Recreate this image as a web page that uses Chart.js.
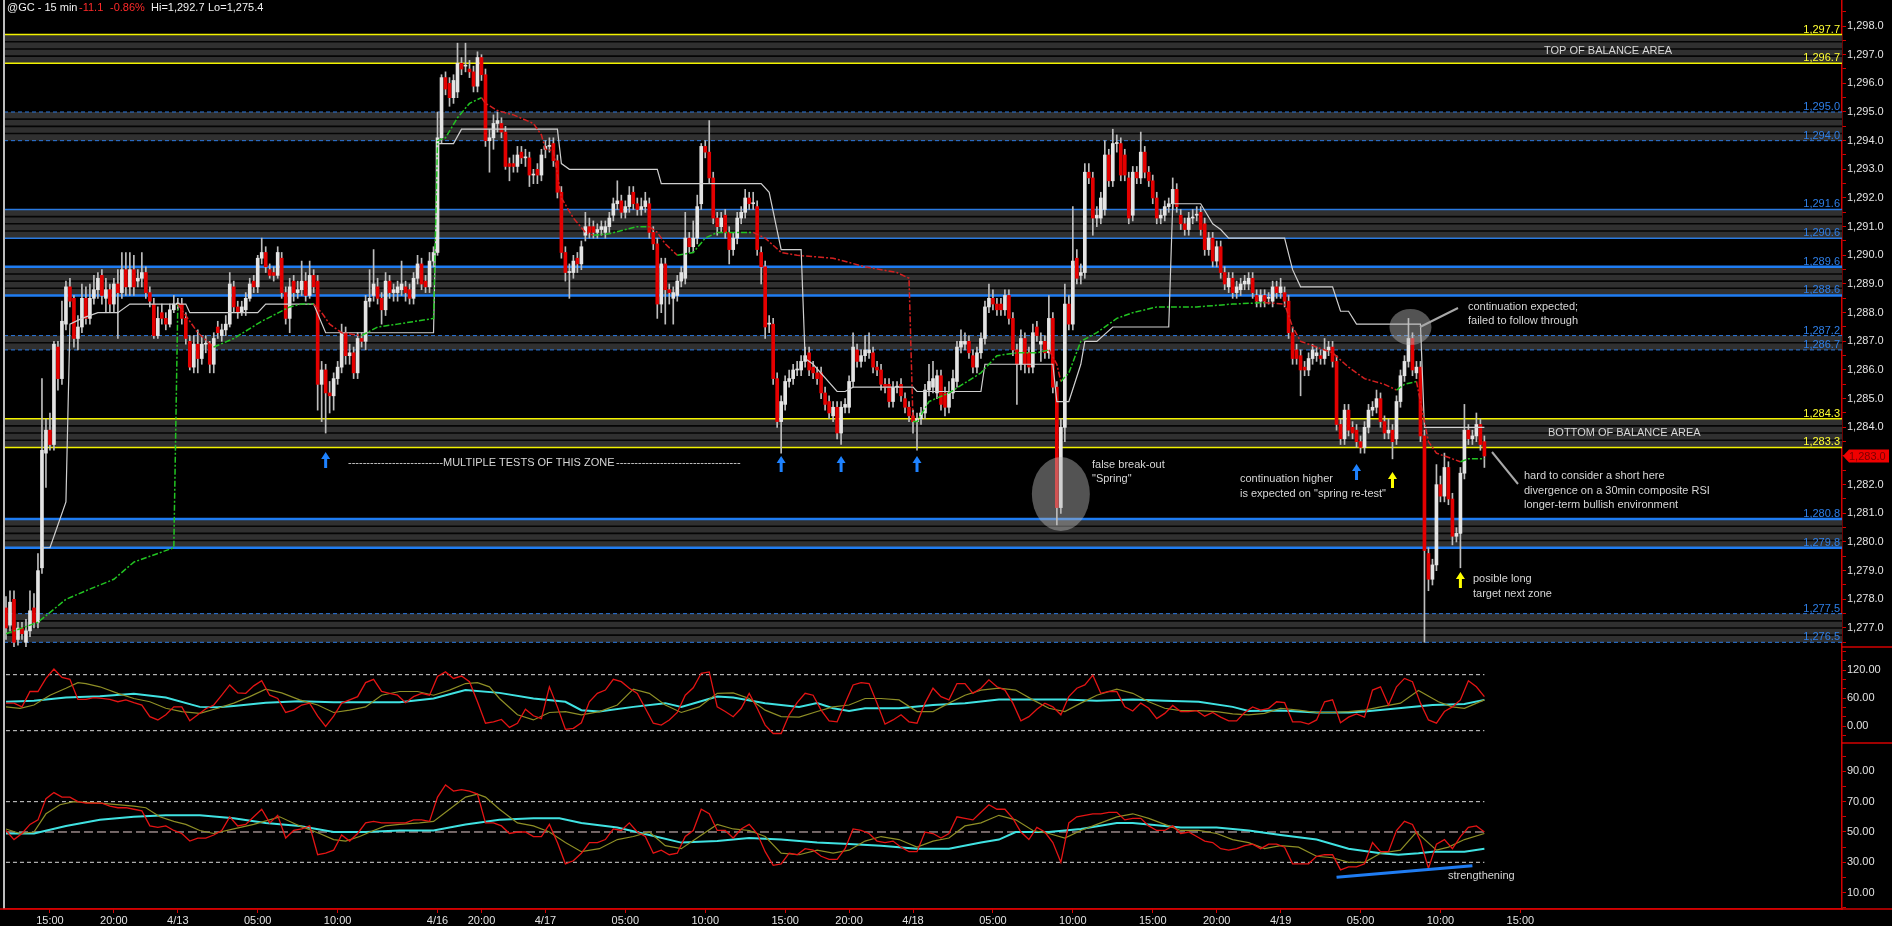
<!DOCTYPE html>
<html><head><meta charset="utf-8">
<script src="https://cdn.jsdelivr.net/npm/chart.js@4.4.1/dist/chart.umd.min.js"></script>
<style>html,body{margin:0;padding:0;background:#000;overflow:hidden}canvas{display:block}</style>
</head><body>
<canvas id="c" width="1892" height="926"></canvas>
<script>
// ---------------- DATA ----------------
const SLOTS = 460;
const tickIdx = [11,27,43,63,83,108,119,135,155,175,195,211,227,247,267,287,303,319,339,359,379];
const tickText = ['15:00','20:00','4/13','05:00','10:00','4/16','20:00','4/17','05:00','10:00','15:00','20:00','4/18','05:00','10:00','15:00','20:00','4/19','05:00','10:00','15:00'];

// 15-min candles [open, high, low, close]
const ohlc = [
[1277.7,1278.1,1276.6,1277.0],[1277.1,1278.3,1276.9,1277.9],[1278.0,1278.3,1276.3,1276.5],[1276.6,1277.2,1276.4,1277.0],[1277.0,1277.2,1276.6,1276.8],[1276.5,1277.3,1276.3,1276.9],[1276.9,1278.3,1276.7,1277.6],[1277.7,1278.2,1277.0,1277.2],[1277.2,1279.6,1277.0,1279.0],[1279.1,1285.7,1278.9,1283.2],
[1283.1,1284.3,1281.9,1283.9],[1283.9,1284.5,1283.2,1283.4],[1283.4,1287.0,1283.2,1286.9],[1286.8,1287.0,1285.3,1285.7],[1285.7,1288.4,1285.5,1287.7],[1287.6,1289.1,1287.4,1288.9],[1288.9,1289.2,1288.2,1288.4],[1288.5,1288.6,1286.8,1287.1],[1287.1,1287.9,1286.7,1287.5],[1287.5,1289.0,1287.3,1288.5],
[1288.5,1288.9,1287.6,1287.8],[1287.8,1289.0,1287.6,1288.5],[1288.5,1289.3,1288.3,1288.8],[1288.8,1289.4,1288.5,1289.2],[1289.3,1289.5,1288.3,1288.6],[1288.5,1289.2,1288.0,1288.8],[1288.8,1289.0,1288.0,1288.3],[1288.3,1289.2,1288.0,1289.0],[1289.0,1289.5,1287.1,1288.7],[1288.7,1290.1,1288.5,1289.5],
[1289.5,1290.1,1288.6,1288.9],[1288.9,1290.1,1288.6,1289.5],[1289.5,1290.0,1288.6,1288.9],[1289.1,1289.5,1288.9,1289.2],[1289.2,1290.1,1288.9,1289.4],[1289.4,1289.6,1288.5,1288.7],[1288.7,1288.9,1288.2,1288.4],[1288.3,1288.5,1287.1,1287.2],[1287.2,1288.2,1287.1,1287.8],[1288.0,1288.3,1287.6,1287.8],
[1287.8,1288.0,1287.4,1287.6],[1287.6,1288.3,1287.5,1288.1],[1288.1,1288.6,1288.0,1288.3],[1288.3,1288.5,1288.1,1288.3],[1288.3,1288.5,1287.6,1287.8],[1287.8,1288.0,1286.9,1287.1],[1287.0,1287.2,1286.0,1286.1],[1286.1,1287.2,1285.9,1286.9],[1286.9,1287.4,1285.9,1286.4],[1286.4,1287.2,1286.2,1286.9],
[1286.9,1287.2,1286.6,1286.9],[1286.9,1287.0,1285.9,1286.2],[1286.2,1287.3,1285.9,1287.1],[1287.5,1287.7,1287.1,1287.3],[1287.2,1287.6,1287.0,1287.4],[1287.4,1287.9,1287.2,1287.6],[1287.6,1289.4,1287.5,1289.0],[1288.9,1289.1,1288.0,1288.2],[1288.2,1288.4,1287.8,1288.0],[1288.0,1288.4,1287.9,1288.2],
[1288.1,1288.7,1287.9,1288.5],[1288.5,1289.2,1288.4,1289.0],[1289.1,1289.3,1288.7,1288.9],[1288.9,1290.0,1288.7,1289.9],[1289.9,1290.6,1289.7,1290.1],[1290.1,1290.3,1289.4,1289.6],[1289.5,1289.7,1289.2,1289.3],[1289.4,1289.6,1289.1,1289.3],[1289.3,1290.3,1289.2,1290.1],[1289.9,1290.1,1288.5,1288.7],
[1288.7,1288.9,1287.6,1287.8],[1287.8,1289.2,1287.3,1288.9],[1289.1,1289.3,1288.4,1288.7],[1288.7,1289.1,1288.5,1288.8],[1288.8,1289.8,1288.6,1289.1],[1289.1,1289.4,1288.4,1288.6],[1288.6,1289.8,1288.5,1289.3],[1289.3,1289.5,1288.7,1288.9],[1289.1,1289.3,1284.6,1285.5],[1285.5,1286.3,1284.2,1286.0],
[1286.0,1286.2,1283.8,1285.2],[1285.2,1285.6,1284.5,1285.1],[1285.1,1285.9,1284.6,1285.7],[1285.7,1286.3,1285.5,1286.1],[1286.1,1287.6,1285.9,1287.3],[1287.3,1287.5,1286.2,1286.5],[1286.5,1286.9,1286.2,1286.6],[1286.6,1286.8,1285.7,1285.9],[1285.9,1287.3,1285.7,1287.1],[1287.1,1287.3,1286.8,1287.0],
[1287.0,1288.6,1286.7,1288.4],[1288.4,1289.5,1288.2,1288.5],[1288.6,1290.2,1288.4,1289.0],[1288.9,1289.2,1288.3,1288.5],[1288.5,1288.7,1287.6,1288.1],[1288.1,1289.4,1287.9,1289.1],[1289.1,1289.3,1288.5,1288.7],[1288.7,1289.0,1288.4,1288.8],[1288.7,1289.1,1288.4,1288.9],[1288.8,1289.8,1288.6,1289.0],
[1288.9,1289.1,1288.4,1288.7],[1288.8,1289.0,1288.3,1288.5],[1288.5,1289.4,1288.3,1289.2],[1289.2,1290.0,1289.0,1289.7],[1289.7,1289.9,1288.8,1289.0],[1289.1,1289.3,1288.7,1288.9],[1288.9,1290.1,1288.7,1289.8],[1289.8,1290.3,1289.6,1290.1],[1290.1,1295.0,1290.0,1294.1],[1294.1,1296.3,1293.9,1296.2],
[1296.2,1296.4,1295.6,1295.8],[1296.0,1296.2,1295.2,1295.5],[1295.5,1296.3,1295.3,1296.1],[1295.7,1297.4,1295.5,1296.7],[1296.7,1296.9,1296.3,1296.5],[1296.6,1297.4,1296.4,1296.6],[1296.5,1296.8,1296.2,1296.4],[1296.4,1296.6,1295.7,1295.9],[1295.9,1297.1,1295.7,1296.9],[1296.9,1297.0,1296.1,1296.3],
[1296.3,1296.5,1293.8,1294.0],[1294.0,1294.4,1292.9,1294.1],[1294.1,1294.9,1293.7,1294.6],[1294.6,1295.0,1294.3,1294.7],[1294.6,1294.8,1294.1,1294.3],[1294.3,1294.5,1293.0,1293.1],[1293.2,1293.4,1292.6,1293.1],[1293.2,1293.5,1292.9,1293.1],[1293.1,1293.8,1292.9,1293.5],[1293.6,1293.8,1293.2,1293.4],
[1293.4,1293.7,1293.1,1293.4],[1293.4,1293.6,1292.4,1292.8],[1292.8,1293.0,1292.5,1292.8],[1293.0,1293.2,1292.5,1292.8],[1292.8,1293.7,1292.6,1293.5],[1293.7,1294.0,1293.4,1293.8],[1293.8,1294.1,1293.6,1293.8],[1293.9,1294.1,1293.1,1293.3],[1293.3,1293.5,1292.0,1292.2],[1292.2,1292.4,1289.9,1290.1],
[1290.1,1290.3,1289.1,1289.4],[1289.4,1289.7,1288.5,1289.4],[1289.4,1290.0,1289.2,1289.8],[1289.9,1290.1,1289.4,1289.7],[1289.7,1290.5,1289.5,1290.3],[1290.7,1291.5,1290.5,1291.0],[1291.0,1291.3,1290.6,1290.8],[1291.0,1291.2,1290.6,1290.8],[1290.8,1291.1,1290.6,1290.9],[1290.9,1291.2,1290.7,1291.0],
[1290.8,1291.2,1290.6,1291.0],[1291.0,1291.5,1290.8,1291.3],[1291.4,1292.0,1291.2,1291.8],[1291.8,1292.6,1291.6,1291.9],[1291.9,1292.1,1291.3,1291.5],[1291.5,1291.9,1291.3,1291.7],[1291.7,1292.4,1291.5,1292.1],[1292.2,1292.4,1291.6,1291.8],[1291.8,1292.0,1291.4,1291.6],[1291.6,1292.0,1291.4,1291.7],
[1291.7,1292.2,1291.5,1291.9],[1291.8,1292.0,1290.6,1290.8],[1290.8,1291.0,1290.2,1290.4],[1290.4,1290.6,1287.8,1288.3],[1288.3,1289.9,1288.0,1289.7],[1289.7,1289.9,1287.6,1288.8],[1288.8,1289.0,1288.3,1288.7],[1288.5,1288.9,1287.6,1288.7],[1288.6,1289.3,1288.4,1289.1],[1289.1,1289.6,1288.9,1289.4],
[1289.2,1291.5,1289.0,1290.6],[1290.6,1290.8,1290.1,1290.3],[1290.3,1291.2,1290.1,1290.6],[1290.6,1292.1,1290.4,1291.7],[1291.8,1293.9,1291.6,1293.8],[1293.8,1294.0,1293.4,1293.6],[1293.6,1294.7,1292.5,1292.7],[1292.7,1292.9,1291.1,1291.3],[1291.3,1291.5,1290.7,1291.0],[1291.0,1291.5,1290.8,1291.3],
[1291.4,1291.6,1290.6,1290.8],[1290.8,1291.0,1289.7,1290.2],[1290.2,1290.8,1290.0,1290.6],[1290.6,1291.5,1290.4,1291.3],[1291.3,1291.7,1291.1,1291.5],[1291.5,1292.3,1291.3,1292.0],[1292.0,1292.2,1291.6,1291.8],[1291.8,1292.2,1291.6,1291.8],[1291.7,1291.9,1290.0,1290.2],[1290.1,1290.3,1289.0,1289.6],
[1289.6,1289.8,1287.1,1287.5],[1287.6,1287.9,1287.3,1287.6],[1287.6,1287.8,1285.5,1285.7],[1285.7,1285.9,1284.0,1284.2],[1284.2,1285.1,1283.1,1284.9],[1284.8,1285.8,1284.6,1285.6],[1285.6,1286.0,1285.4,1285.7],[1285.7,1286.2,1285.5,1286.0],[1286.0,1286.3,1285.8,1286.0],[1286.0,1286.5,1285.8,1286.3],
[1286.3,1286.8,1286.1,1286.5],[1286.6,1286.8,1285.8,1286.0],[1286.1,1286.3,1285.7,1285.9],[1285.9,1286.1,1285.5,1285.7],[1285.9,1286.1,1285.0,1285.2],[1285.2,1285.4,1284.6,1284.8],[1284.9,1285.1,1284.3,1284.5],[1284.4,1284.9,1284.2,1284.7],[1284.7,1284.9,1283.6,1283.8],[1283.8,1284.9,1283.4,1284.7],
[1284.7,1285.0,1284.5,1284.8],[1284.7,1285.8,1284.5,1285.6],[1285.6,1287.3,1285.4,1286.8],[1286.7,1286.9,1286.1,1286.3],[1286.3,1286.7,1286.1,1286.5],[1286.5,1287.2,1286.3,1286.7],[1286.6,1287.3,1286.4,1286.7],[1286.6,1286.8,1285.9,1286.1],[1286.1,1286.3,1285.8,1286.0],[1286.0,1286.2,1285.3,1285.5],
[1285.5,1285.7,1285.2,1285.4],[1285.5,1285.7,1284.7,1284.9],[1284.9,1285.6,1284.7,1285.4],[1285.4,1285.6,1285.2,1285.4],[1285.5,1285.7,1284.9,1285.1],[1285.0,1285.2,1284.5,1284.7],[1284.7,1284.9,1284.2,1284.4],[1284.4,1284.6,1283.8,1284.2],[1284.2,1284.5,1283.2,1284.3],[1284.3,1284.7,1284.1,1284.5],
[1284.5,1285.5,1284.3,1285.3],[1285.3,1286.2,1285.1,1285.6],[1285.4,1286.3,1285.2,1285.7],[1285.2,1286.0,1285.0,1285.8],[1285.8,1286.0,1284.6,1284.8],[1285.2,1285.4,1284.4,1284.7],[1284.7,1285.6,1284.5,1285.2],[1285.2,1286.0,1285.0,1285.7],[1285.6,1287.0,1285.4,1286.8],[1286.8,1287.4,1286.6,1287.0],
[1286.9,1287.3,1286.7,1287.0],[1287.0,1287.2,1286.4,1286.6],[1286.5,1286.7,1285.9,1286.1],[1286.1,1286.8,1285.9,1286.6],[1286.6,1287.3,1286.4,1287.1],[1287.1,1288.4,1286.9,1288.2],[1288.2,1289.0,1288.0,1288.5],[1288.5,1288.8,1288.1,1288.3],[1288.3,1288.5,1287.9,1288.1],[1288.3,1288.5,1287.9,1288.1],
[1288.1,1288.8,1287.9,1288.6],[1288.6,1288.8,1287.6,1287.8],[1287.8,1288.0,1286.5,1286.7],[1286.7,1286.9,1284.8,1286.2],[1286.2,1287.4,1286.0,1287.1],[1287.1,1287.3,1285.9,1286.2],[1286.6,1286.8,1285.9,1286.1],[1286.1,1287.6,1285.9,1287.3],[1287.5,1287.7,1287.0,1287.2],[1286.9,1287.3,1286.3,1287.0],
[1287.0,1287.2,1286.4,1286.6],[1286.6,1288.6,1286.4,1287.8],[1287.8,1288.0,1285.2,1285.4],[1285.4,1285.6,1280.6,1281.2],[1281.2,1284.3,1281.0,1284.0],[1284.0,1289.0,1283.5,1288.3],[1288.3,1288.6,1287.4,1287.6],[1287.6,1291.7,1287.4,1289.8],[1289.9,1290.2,1289.0,1289.2],[1289.3,1289.7,1289.0,1289.4],
[1289.4,1293.2,1289.2,1292.9],[1292.9,1293.2,1292.5,1292.7],[1292.7,1292.9,1290.7,1291.3],[1291.3,1291.7,1291.0,1291.4],[1291.3,1292.2,1291.1,1292.0],[1291.6,1294.0,1291.4,1293.5],[1293.5,1293.7,1292.4,1292.6],[1292.6,1294.4,1292.4,1293.9],[1293.9,1294.2,1293.6,1293.9],[1293.9,1294.1,1292.6,1292.8],
[1293.5,1293.7,1292.6,1292.8],[1292.7,1292.9,1291.1,1291.3],[1291.4,1293.1,1291.2,1292.9],[1292.9,1293.1,1292.5,1292.7],[1292.7,1294.3,1292.5,1293.6],[1293.6,1293.8,1292.7,1292.9],[1292.9,1293.1,1292.4,1292.6],[1292.6,1292.8,1291.8,1292.0],[1292.0,1292.2,1291.1,1291.3],[1291.3,1291.6,1291.1,1291.4],
[1291.4,1291.9,1291.2,1291.7],[1291.7,1292.0,1291.5,1291.8],[1291.8,1292.7,1291.6,1292.3],[1292.3,1292.5,1291.5,1291.7],[1291.4,1291.6,1290.9,1291.1],[1291.1,1291.3,1290.7,1290.9],[1290.9,1291.5,1290.7,1291.3],[1291.3,1291.6,1291.1,1291.3],[1291.4,1291.7,1291.2,1291.4],[1291.5,1291.7,1290.7,1290.9],
[1291.1,1291.3,1290.0,1290.2],[1290.2,1290.8,1290.0,1290.6],[1290.6,1290.8,1289.6,1289.8],[1289.8,1290.5,1289.6,1290.3],[1290.3,1290.5,1289.2,1289.4],[1289.4,1289.6,1288.8,1289.0],[1288.9,1289.4,1288.7,1289.2],[1289.2,1289.4,1288.5,1288.7],[1288.7,1289.1,1288.5,1288.9],[1288.8,1289.2,1288.6,1289.0],
[1289.0,1289.3,1288.8,1289.1],[1289.0,1289.4,1288.8,1289.2],[1289.2,1289.4,1288.5,1288.7],[1288.6,1288.8,1288.2,1288.4],[1288.4,1288.8,1288.2,1288.6],[1288.6,1288.8,1288.2,1288.4],[1288.5,1288.7,1288.3,1288.5],[1288.4,1289.1,1288.2,1288.9],[1288.9,1289.1,1288.5,1288.7],[1288.7,1289.2,1288.5,1288.9],
[1288.7,1288.9,1288.2,1288.4],[1288.4,1288.6,1287.1,1287.3],[1287.3,1287.5,1286.2,1286.4],[1286.7,1286.9,1286.2,1286.4],[1286.5,1286.7,1285.1,1286.0],[1286.1,1286.3,1285.8,1286.0],[1286.0,1286.6,1285.8,1286.4],[1286.4,1286.9,1286.2,1286.7],[1286.5,1286.8,1286.3,1286.6],[1286.5,1286.7,1286.2,1286.4],
[1286.4,1287.1,1286.2,1286.7],[1286.7,1287.0,1286.5,1286.8],[1286.8,1287.0,1286.1,1286.3],[1286.3,1286.5,1283.9,1284.1],[1284.1,1284.3,1283.4,1283.6],[1283.6,1284.8,1283.4,1284.6],[1284.6,1284.8,1283.7,1283.9],[1284.0,1284.2,1283.6,1283.8],[1283.9,1284.1,1283.3,1283.5],[1283.5,1283.7,1283.1,1283.3],
[1283.3,1284.2,1283.1,1284.0],[1284.0,1284.8,1283.8,1284.6],[1284.6,1284.9,1284.4,1284.7],[1284.7,1285.3,1284.5,1285.0],[1285.0,1285.2,1284.0,1284.2],[1284.2,1284.4,1283.6,1283.8],[1283.8,1284.3,1283.6,1283.9],[1283.9,1284.1,1282.9,1283.5],[1283.6,1285.1,1283.4,1284.9],[1284.9,1286.0,1284.7,1285.8],
[1285.8,1286.5,1285.6,1286.3],[1286.3,1287.8,1286.1,1287.1],[1287.1,1287.3,1285.8,1286.0],[1285.9,1286.3,1285.7,1286.1],[1286.1,1286.3,1283.5,1283.7],[1283.7,1283.9,1276.5,1279.7],[1279.6,1279.8,1278.3,1278.7],[1278.7,1279.4,1278.5,1279.2],[1279.2,1282.7,1279.0,1282.0],[1282.0,1282.3,1281.4,1281.6],
[1281.6,1283.1,1281.4,1282.6],[1282.6,1282.8,1281.3,1281.5],[1281.5,1281.7,1279.9,1280.2],[1280.2,1280.5,1280.0,1280.3],[1280.3,1282.6,1279.1,1282.4],[1282.4,1284.8,1282.2,1283.9],[1283.9,1284.1,1283.4,1283.6],[1283.6,1283.9,1283.4,1283.7],[1283.7,1284.5,1283.5,1284.1],[1284.1,1284.3,1283.2,1283.4],
[1283.5,1283.7,1282.6,1283.0]
];
const lastPrice = 1283.0;

// white step line [bar, price]
const stepLine = [[9,1279.8],[11,1279.8],[12,1280.2],[15,1281.4],[16,1287.6],[19,1287.8],[23,1288.0],[28,1288.0],[31,1288.3],[45,1288.3],[46,1288.0],[63,1288.0],[65,1288.3],[77,1288.3],[80,1287.3],[107,1287.3],[108,1293.9],[112,1293.9],[114,1294.4],[138,1294.4],[139,1293.2],[141,1293.0],[163,1293.0],[164,1292.5],[189,1292.5],[191,1292.2],[194,1290.2],[199,1290.2],[200,1286.4],[202,1286.2],[208,1285.25],[210,1285.25],[212,1285.4],[227,1285.4],[228,1285.25],[244,1285.25],[245,1286.2],[262,1286.2],[263,1284.9],[266,1284.9],[269,1286.2],[270,1287.0],[273,1287.0],[277,1287.5],[291,1287.5],[292,1291.8],[299,1291.8],[302,1291.1],[304,1290.9],[306,1290.6],[320,1290.6],[322,1289.5],[324,1288.9],[332,1288.9],[334,1288.05],[336,1288.05],[338,1287.6],[354,1287.6],[355,1284.0],[370,1284.0]];

// green/red dashed average line [bar, price]
const avgLine = [[0,1276.8],[8,1277.2],[15,1278.0],[20,1278.3],[27,1278.7],[32,1279.3],[36,1279.5],[42,1279.8],[43,1288.3],[45,1287.9],[48,1287.3],[52,1286.8],[57,1287.1],[64,1287.7],[71,1288.2],[74,1288.3],[77,1288.3],[79,1288.0],[81,1287.6],[84,1287.3],[89,1287.2],[93,1287.5],[98,1287.6],[107,1287.8],[108,1294.0],[110,1294.1],[113,1294.8],[116,1295.3],[119,1295.5],[120,1295.3],[123,1295.05],[127,1294.9],[132,1294.6],[134,1294.2],[135,1293.7],[137,1293.65],[139,1292.0],[142,1291.3],[145,1290.8],[147,1290.7],[151,1290.75],[155,1290.9],[158,1291.0],[161,1291.0],[163,1290.8],[165,1290.4],[168,1290.0],[172,1290.1],[175,1290.6],[178,1290.8],[187,1290.8],[190,1290.6],[194,1290.1],[198,1290.0],[207,1289.9],[215,1289.6],[223,1289.4],[226,1289.2],[227,1284.2],[228,1284.2],[231,1284.9],[236,1285.2],[244,1285.9],[248,1286.5],[253,1286.6],[258,1286.6],[261,1286.7],[263,1286.2],[264,1285.6],[266,1285.9],[269,1287.0],[273,1287.3],[278,1287.8],[282,1288.0],[288,1288.2],[298,1288.2],[307,1288.3],[315,1288.35],[320,1288.3],[322,1287.5],[324,1287.0],[328,1286.8],[332,1286.6],[336,1286.1],[340,1285.7],[345,1285.5],[348,1285.3],[350,1285.5],[353,1285.6],[356,1283.5],[358,1283.1],[362,1282.9],[364,1282.8],[366,1282.9],[370,1282.9]];

// zones
const zoneTop    = [1297.7, 1295.0, 1291.6, 1289.6, 1287.2, 1284.3, 1280.8, 1277.5];
const zoneBottom = [1296.7, 1294.0, 1290.6, 1288.6, 1286.7, 1283.3, 1279.8, 1276.5];
const zoneKind   = ['yellow','blueDash','blueThin','blueThick','blueDash','yellow','blueThick','blueDash'];

// arrows
const arrowBars   = [80, 194, 209, 228, 338, 347, 364];
const arrowPrices = [1282.86, 1282.72, 1282.72, 1282.72, 1282.44, 1282.16, 1278.67];
const arrowColors = ['#1e82ff','#1e82ff','#1e82ff','#1e82ff','#1e82ff','#ffff00','#ffff00'];

// highlight circles [bar, price]
const circleBars   = [264, 351.5];
const circlePrices = [1281.67, 1287.5];

// oscillator 1 (values every 2 bars)
const osc1Red = [49,49,41,74,74,102,122,104,100,57,
57,61,59,57,52,56,50,45,20,13,
24,41,41,11,24,37,45,66,88,71,
70,86,97,66,59,29,34,45,49,21,
-1,21,49,56,63,93,100,74,70,66,
50,63,70,66,106,116,102,107,95,52,
6,9,14,-3,6,36,22,16,84,41,
-7,-5,7,52,70,77,100,95,81,70,
38,6,2,13,29,66,82,113,116,41,
31,20,38,70,38,2,-16,-16,24,50,
70,66,34,11,9,49,88,93,91,49,
4,13,24,9,6,49,81,63,56,91,
91,70,81,99,84,77,49,11,20,36,
49,41,24,63,81,88,109,70,74,74,
41,32,49,38,16,27,44,31,31,33,
21,29,19,11,11,29,41,34,38,52,
50,9,9,4,13,52,56,7,19,26,
19,77,84,45,84,102,95,49,13,6,
31,41,56,97,84,63];
const osc1Olive = [[0,41],[3.5,38],[7,45],[11,66],[15,81],[18,93],[20,91],[23.5,84],[28,70],[32,59],[36,52],[40,38],[44,31],[48.5,27],[53,38],[57,49],[61,63],[65,79],[69,71],[73.5,56],[78,45],[82,29],[86,34],[90,41],[94,66],[98.5,74],[103,74],[107,66],[111,77],[115,91],[118,93],[121,84],[123.5,59],[128,24],[132,13],[136,29],[140,31],[144,24],[148.5,31],[153,45],[157,79],[161,70],[165,45],[169,29],[173.5,41],[178,70],[182,71],[186,59],[190,34],[194,20],[198.5,19],[203,31],[207,41],[211,45],[215,59],[219,59],[223.5,56],[228,31],[232,31],[236,49],[240,66],[244,77],[248.5,81],[252.7,77],[257,56],[261,38],[265,31],[269,49],[273,66],[278,79],[282,70],[286,52],[290,38],[294,33],[298.5,33],[303,31],[307,26],[311,24],[315,27],[319,38],[323.5,34],[328,29],[332,29],[336,31],[340,34],[344,41],[349,49],[353.5,76],[358.5,52],[362,41],[365,38],[370,56]];
const osc1Cyan = [[0,52],[7,54],[15,61],[23.5,64],[32,69],[40,61],[48.5,41],[53,40],[57,43],[65,50],[73.5,53],[82,51],[90,51],[98.5,51],[107,59],[115,77],[123.5,71],[132,59],[140,52],[144,34],[148.5,31],[157,41],[165,49],[169,41],[173.5,52],[178,63],[182,61],[190,49],[198.5,41],[203,49],[207,38],[211,32],[215,38],[223.5,38],[232,45],[240,49],[248.5,57],[257,57],[265,57],[273,54],[282,57],[290,54],[298.5,52],[307,41],[311,32],[319,33],[328,29],[336,29],[340,31],[348.5,38],[357,45],[365,47],[370,56]];
const osc1Levels = [110, -10];

// oscillator 2 (values every 2 bars)
const osc2Red = [51,45,49,55,58,72,76,73,73,70,
69,69,69,67,66,66,65,64,54,53,
54,51,49,44,46,46,48,51,60,54,
55,60,65,56,61,46,51,52,54,35,
36,38,48,44,49,56,57,56,56,56,
56,58,58,57,73,81,77,78,77,75,
56,56,54,49,50,50,47,47,55,43,
29,31,36,43,43,45,52,51,56,50,
47,36,38,35,36,47,51,65,62,51,
51,46,52,55,49,37,28,29,36,35,
39,38,34,32,32,39,52,51,49,44,
43,44,40,37,37,50,49,46,49,60,
59,58,63,68,65,65,59,50,45,53,
50,43,30,56,60,61,62,62,63,63,
58,59,59,54,51,51,54,49,50,47,
44,43,39,38,39,41,42,39,42,42,
40,29,29,29,34,35,35,25,27,27,
29,43,37,37,51,57,55,44,26,42,
45,39,47,53,54,50];
const osc2Olive = [[0,52],[3.5,49],[7,50],[10,62],[13.5,68],[17,70],[23.5,69],[32,67],[35,66],[38.5,60],[42,57],[45,55],[48.5,51],[52,49],[57,52],[62,55],[68.5,60],[73.5,54],[78.5,49],[82,45],[85,44],[88.5,47],[92,51],[95,54],[98.5,55],[103.5,56],[107,57],[111,65],[115,73],[118,75],[120,73],[123.5,65],[128,56],[132,54],[136,50],[140,43],[144,37],[148.5,39],[153,45],[157,47],[161,50],[165,41],[169,39],[173.5,47],[178,55],[182,52],[186,51],[190,47],[194,36],[198.5,35],[203,38],[207,36],[211,38],[215,44],[219,47],[223.5,45],[228,40],[232,44],[236,46],[240,54],[244,56],[248.5,61],[252.7,58],[257,51],[261,49],[265,46],[269,51],[273,55],[278,60],[282,62],[286,59],[290,55],[294,51],[298.5,51],[303,49],[307,45],[311,43],[315,39],[319,41],[323.5,40],[328,34],[332,33],[336,30],[340,30],[344,36],[349,38],[353,50],[358,38],[361,40],[365,45],[370,49]];
const osc2Cyan = [[0,49],[7,49],[15,54],[23.5,58],[32,60],[40,61],[48.5,61],[57,59],[65,56],[73.5,54],[82,50],[90,50],[98.5,51],[107,51],[115,55],[123.5,58],[132,59],[138.5,59],[144,56],[153,53],[161,48],[169,43],[178,44],[186,46],[194,45],[203,43],[211,42],[219,41],[228,39],[236,39],[244,43],[248.5,45],[252.7,50],[261,50],[269,52],[278,56],[282,56],[286,55],[294,53],[303,53],[311,51],[319,48],[328,45],[336,39],[344,36],[348.5,35],[353.5,36],[357,37],[365,37],[370,39]];
const osc2Levels = [70, 50, 30];
const strengthLine = [[333,20.1],[367,27.8]];

// ---------------- STYLE ----------------
const FONT = '11px "Liberation Sans", Arial, Helvetica, sans-serif';
Chart.defaults.font.family = '"Liberation Sans", Arial, Helvetica, sans-serif';
Chart.defaults.font.size = 11;
Chart.defaults.color = '#e2e2e2';
const AXIS_RED = '#d40000';
const lineStyles = {
  yellow:   {color:'#f2f200', width:1.5, dash:[],    label:'#ffff33'},
  blueDash: {color:'#2c7ae0', width:1,   dash:[4,3], label:'#2e7fe8'},
  blueThin: {color:'#2a7ae0', width:1.5, dash:[],    label:'#2e7fe8'},
  blueThick:{color:'#1f7cf2', width:2.6, dash:[],    label:'#2e7fe8'}
};
function fmtPrice(v){
  const s = v.toFixed(1).split('.');
  return s[0].replace(/\B(?=(\d{3})+(?!\d))/g, ',') + '.' + s[1];
}
const pts = arr => arr.map(p => ({x:p[0], y:p[1]}));
const every2 = arr => arr.map((v,k) => ({x:k*2, y:v}));
const span = v => [{x:0,y:v},{x:ohlc.length-1,y:v}];

const notes = [
 {t:'TOP OF BALANCE AREA', x:1544, y:51},
 {t:'BOTTOM OF BALANCE AREA', x:1548, y:433},
 {t:'continuation expected;', x:1468, y:307},
 {t:'failed to follow through', x:1468, y:321},
 {t:'false break-out', x:1092, y:465},
 {t:'"Spring"', x:1092, y:479},
 {t:'continuation higher', x:1240, y:479},
 {t:'is expected on "spring re-test"', x:1240, y:494},
 {t:'hard to consider a short here', x:1524, y:476},
 {t:'divergence on a 30min composite RSI', x:1524, y:491},
 {t:'longer-term bullish environment', x:1524, y:505},
 {t:'posible long', x:1473, y:579},
 {t:'target next zone', x:1473, y:594},
 {t:'strengthening', x:1448, y:876}
];

function arrow(c, x, yc, color){
  c.fillStyle = color;
  c.beginPath();
  c.moveTo(x, yc-8); c.lineTo(x+4.5, yc-1); c.lineTo(x+1.5, yc-1); c.lineTo(x+1.5, yc+8);
  c.lineTo(x-1.5, yc+8); c.lineTo(x-1.5, yc-1); c.lineTo(x-4.5, yc-1); c.closePath(); c.fill();
}

const overlay = {
  id:'overlay',
  beforeDraw(chart){
    const c = chart.ctx; c.save(); c.fillStyle = '#000'; c.fillRect(0,0,chart.width,chart.height); c.restore();
  },
  beforeDatasetsDraw(chart){
    const c = chart.ctx, a = chart.chartArea, y = chart.scales.y;
    c.save();
    c.beginPath(); c.rect(a.left, y.top, a.right-a.left, y.bottom-y.top); c.clip();
    zoneTop.forEach((top,k) => {
      const bot = zoneBottom[k];
      const yt = y.getPixelForValue(top), yb = y.getPixelForValue(bot);
      c.fillStyle = '#303030';
      c.fillRect(a.left, yt, a.right-a.left, yb-yt);
      c.strokeStyle = '#050505'; c.lineWidth = 1.6;
      for (let v = top-0.25; v > bot+0.01; v -= 0.25){
        const yy = y.getPixelForValue(v);
        c.beginPath(); c.moveTo(a.left, yy); c.lineTo(a.right, yy); c.stroke();
      }
      const st = lineStyles[zoneKind[k]];
      [top, bot].forEach(v => {
        const yy = y.getPixelForValue(v);
        c.strokeStyle = st.color; c.lineWidth = st.width; c.setLineDash(st.dash);
        c.beginPath(); c.moveTo(a.left, yy); c.lineTo(a.right, yy); c.stroke();
      });
      c.setLineDash([]);
    });
    c.restore();
  },
  afterDatasetsDraw(chart){
    const c = chart.ctx, a = chart.chartArea, x = chart.scales.x, y = chart.scales.y;
    c.save();
    // circles
    c.fillStyle = 'rgba(185,185,185,0.45)';
    c.beginPath(); c.ellipse(x.getPixelForValue(circleBars[0]), y.getPixelForValue(circlePrices[0]), 29, 37, 0, 0, Math.PI*2); c.fill();
    c.beginPath(); c.ellipse(x.getPixelForValue(circleBars[1]), y.getPixelForValue(circlePrices[1]), 21, 18, 0, 0, Math.PI*2); c.fill();
    // arrows
    arrowBars.forEach((b,k) => arrow(c, x.getPixelForValue(b), y.getPixelForValue(arrowPrices[k]), arrowColors[k]));
    // pointer lines
    c.strokeStyle = '#a8a8a8'; c.lineWidth = 2;
    c.beginPath(); c.moveTo(1420,327); c.lineTo(1458,308); c.stroke();
    c.beginPath(); c.moveTo(1492,452); c.lineTo(1518,484); c.stroke();
    // zone labels
    c.font = FONT; c.textAlign = 'right'; c.textBaseline = 'alphabetic';
    zoneTop.forEach((top,k) => {
      const st = lineStyles[zoneKind[k]];
      c.fillStyle = st.label;
      [top, zoneBottom[k]].forEach(v => c.fillText(fmtPrice(v), a.right-2, y.getPixelForValue(v)-2));
    });
    // notes
    c.textAlign = 'left'; c.textBaseline = 'middle'; c.fillStyle = '#d6d6d6';
    notes.forEach(n => c.fillText(n.t, n.x, n.y));
    const dw = c.measureText('-').width;
    c.fillText('-'.repeat(Math.round(95/dw)), 348, 463);
    c.fillText('MULTIPLE TESTS OF THIS ZONE', 443, 463);
    c.fillText('-'.repeat(Math.round(124/dw)), 616, 463);
    c.restore();
  },
  afterDraw(chart){
    const c = chart.ctx, a = chart.chartArea, s = chart.scales;
    c.save();
    // left border
    c.strokeStyle = '#bdbdbd'; c.lineWidth = 2;
    c.beginPath(); c.moveTo(4, 0); c.lineTo(4, a.bottom); c.stroke();
    // panel separators on axis side
    c.strokeStyle = AXIS_RED; c.lineWidth = 1.5;
    [s.y.bottom, s.y2.bottom].forEach(yy => { c.beginPath(); c.moveTo(a.right, yy); c.lineTo(chart.width, yy); c.stroke(); });
    c.beginPath(); c.moveTo(0, a.bottom); c.lineTo(chart.width, a.bottom); c.stroke();
    // price tag
    const yc = s.y.getPixelForValue(lastPrice);
    c.fillStyle = '#f00000';
    c.beginPath(); c.moveTo(a.right+1, yc); c.lineTo(a.right+7, yc-6.5); c.lineTo(1889, yc-6.5); c.lineTo(1889, yc+6.5); c.lineTo(a.right+7, yc+6.5); c.closePath(); c.fill();
    c.font = FONT; c.fillStyle = '#7a0000'; c.textAlign = 'left'; c.textBaseline = 'middle';
    c.fillText(fmtPrice(lastPrice), 1849, yc+0.5);
    // title
    c.fillStyle = '#f0f0f0'; c.fillText('@GC - 15 min', 7, 8);
    c.fillStyle = '#ff2a2a'; c.fillText('-11.1', 79, 8); c.fillText('-0.86%', 110, 8);
    c.fillStyle = '#f0f0f0'; c.fillText('Hi=1,292.7', 151, 8); c.fillText('Lo=1,275.4', 208, 8);
    c.restore();
  }
};

const redBars = ohlc.map(c => c[3] < c[0]);
const yAxisCommon = (id) => ({
  position:'right', stack:'panels',
  grid:{drawOnChartArea:false, drawTicks:true, tickLength:4, color:AXIS_RED, tickColor:AXIS_RED},
  border:{display:true, color:AXIS_RED, width:1.5},
  ticks:{autoSkip:false, padding:1, color:'#e2e2e2', font:{size:11}},
  afterFit(scale){ scale.width = 50; scale.paddingTop = 0; scale.paddingBottom = 0; }
});

const chart = new Chart(document.getElementById('c'), {
  type:'bar',
  data:{
    datasets:[
      {type:'bar', label:'wick', data: ohlc.map((c,i) => ({x:i, y:[c[2], c[1]]})), backgroundColor:'#bdbdbd', barThickness:1, grouped:false, order:20, yAxisID:'y', borderWidth:0},
      {type:'bar', label:'body', data: ohlc.map((c,i) => ({x:i, y:[c[0], c[3]]})), backgroundColor: redBars.map(r => r ? '#e40000' : '#e4e4e4'), barThickness:3, minBarLength:1, grouped:false, order:19, yAxisID:'y', borderWidth:0},
      {type:'line', label:'step', data: pts(stepLine), borderColor:'#cfcfcf', borderWidth:1.2, pointRadius:0, yAxisID:'y', order:3},
      {type:'line', label:'avg', data: pts(avgLine), borderColor:'#22c022', borderWidth:1.5, borderDash:[6,2,2,2], pointRadius:0, yAxisID:'y', order:2,
        segment:{borderColor: ctx => ctx.p1.parsed.y >= ctx.p0.parsed.y ? '#22c422' : '#d42020'}},
      ...osc1Levels.map(v => ({type:'line', data: span(v), borderColor:'#d6d6d6', borderWidth:1, borderDash:[4,3], pointRadius:0, yAxisID:'y2', order:8})),
      {type:'line', data: pts(osc1Cyan), borderColor:'#40e2e2', borderWidth:2, pointRadius:0, yAxisID:'y2', order:7},
      {type:'line', data: pts(osc1Olive), borderColor:'#8e8e26', borderWidth:1.2, pointRadius:0, yAxisID:'y2', order:6},
      {type:'line', data: every2(osc1Red), borderColor:'#e41414', borderWidth:1.3, pointRadius:0, yAxisID:'y2', order:5},
      ...osc2Levels.map(v => ({type:'line', data: span(v), borderColor: v === 50 ? '#e6cccc' : '#d6d6d6', borderWidth:1, borderDash: v === 50 ? [9,4] : [4,3], pointRadius:0, yAxisID:'y3', order:8})),
      {type:'line', data: pts(osc2Cyan), borderColor:'#40e2e2', borderWidth:2, pointRadius:0, yAxisID:'y3', order:7},
      {type:'line', data: pts(osc2Olive), borderColor:'#8e8e26', borderWidth:1.2, pointRadius:0, yAxisID:'y3', order:6},
      {type:'line', data: every2(osc2Red), borderColor:'#e41414', borderWidth:1.3, pointRadius:0, yAxisID:'y3', order:5},
      {type:'line', data: pts(strengthLine), borderColor:'#1f7cf2', borderWidth:3, pointRadius:0, yAxisID:'y3', order:4}
    ]
  },
  options:{
    responsive:false, animation:false, events:[],
    layout:{padding:{left:4, right:0, top:0, bottom:0}, autoPadding:false},
    plugins:{legend:{display:false}, tooltip:{enabled:false}},
    scales:{
      x:{type:'linear', min:-0.5, max:SLOTS-0.5, offset:false,
        grid:{drawOnChartArea:false, drawTicks:true, tickLength:4, color:AXIS_RED, tickColor:AXIS_RED, offset:false},
        border:{display:true, color:AXIS_RED, width:1.5},
        ticks:{autoSkip:false, maxRotation:0, padding:1, color:'#e2e2e2', font:{size:11},
          callback:(v) => { const k = tickIdx.indexOf(v); return k >= 0 ? tickText[k] : null; }},
        afterBuildTicks(scale){ scale.ticks = tickIdx.map(v => ({value:v})); },
        afterFit(scale){ scale.height = 17; scale.paddingLeft = 0; scale.paddingRight = 0; }
      },
      y: Object.assign(yAxisCommon('y'), {stackWeight:647, min:1276.337, max:1298.907,
        afterBuildTicks(scale){ const t = []; for (let v = 1276.5; v <= 1298.6; v += 0.5) t.push({value:Math.round(v*10)/10}); scale.ticks = t; }}),
      y2: Object.assign(yAxisCommon('y2'), {stackWeight:96, min:-36.4, max:169.3,
        afterBuildTicks(scale){ const t = []; for (let v = -20; v <= 160; v += 20) t.push({value:v}); scale.ticks = t; }}),
      y3: Object.assign(yAxisCommon('y3'), {stackWeight:166, min:-0.8, max:108.7,
        afterBuildTicks(scale){ const t = []; for (let v = 0; v <= 100; v += 10) t.push({value:v}); scale.ticks = t; }})
    }
  },
  plugins:[overlay]
});
chart.options.scales.y.ticks.callback = v => Math.abs(v - Math.round(v)) < 1e-6 ? fmtPrice(v) : '';
chart.options.scales.y2.ticks.callback = v => (v >= 0 && v % 60 === 0) ? v.toFixed(2) : '';
chart.options.scales.y3.ticks.callback = v => (v % 20 === 10) ? v.toFixed(2) : '';
chart.update('none');
</script>
</body></html>
